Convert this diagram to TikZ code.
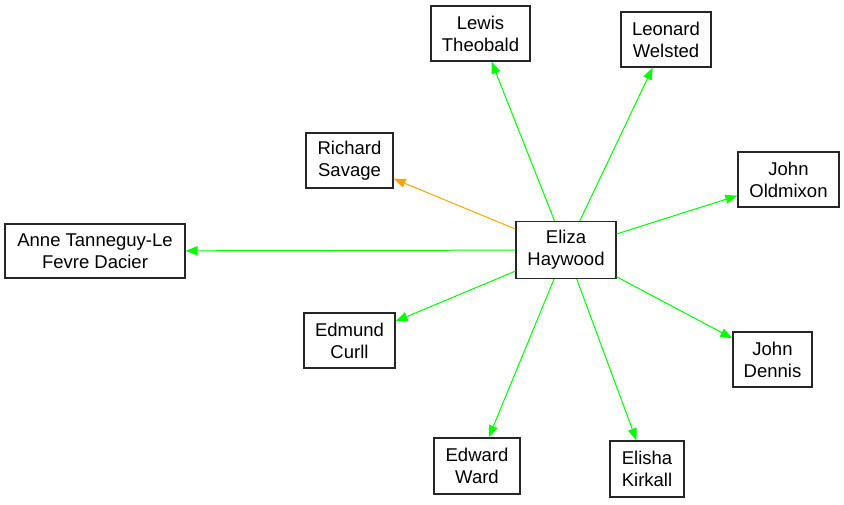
\documentclass[tikz,border=0pt]{standalone}
\usepackage{fontspec}
\setmainfont{Liberation Sans}
\usetikzlibrary{arrows.meta}
\definecolor{edgegreen}{RGB}{0,255,0}
\definecolor{edgeorange}{RGB}{255,165,0}
\begin{document}
\begin{tikzpicture}[x=1pt,y=-1pt,
  person/.style={draw=black!85,line width=1.2pt,fill=white,align=center,inner sep=0pt,
    font=\fontsize{18.5}{22}\selectfont},
  rel/.style={draw=edgegreen,line width=1pt,-{Triangle[length=12pt,width=9pt]}},
  relo/.style={draw=edgeorange,line width=1pt,-{Triangle[length=12pt,width=9pt]}}]
\useasboundingbox (0,0) rectangle (844,504);
\node[person,minimum width=100pt,minimum height=57pt] (eliza) at (566,250) {Eliza\\Haywood};
\node[person,minimum width=99pt,minimum height=55pt] (lewis) at (480.5,33.5) {Lewis\\Theobald};
\node[person,minimum width=90pt,minimum height=55pt] (leonard) at (666,39.5) {Leonard\\Welsted};
\node[person,minimum width=87pt,minimum height=55pt] (richard) at (349.5,160.5) {Richard\\Savage};
\node[person,minimum width=101pt,minimum height=55pt] (oldmixon) at (788.5,179.5) {John\\Oldmixon};
\node[person,minimum width=180pt,minimum height=54pt] (anne) at (95,251) {Anne Tanneguy-Le\\Fevre Dacier};
\node[person,minimum width=91pt,minimum height=55pt] (edmund) at (349.5,340.5) {Edmund\\Curll};
\node[person,minimum width=79pt,minimum height=55pt] (dennis) at (772.5,359.5) {John\\Dennis};
\node[person,minimum width=86pt,minimum height=56pt] (ward) at (477,466) {Edward\\Ward};
\node[person,minimum width=74pt,minimum height=56pt] (kirkall) at (647,469) {Elisha\\Kirkall};
\draw[rel] (eliza) -- (lewis);
\draw[rel] (eliza) -- (leonard);
\draw[relo] (eliza) -- (richard);
\draw[rel] (eliza) -- (oldmixon);
\draw[rel] (eliza) -- (anne);
\draw[rel] (eliza) -- (edmund);
\draw[rel] (eliza) -- (dennis);
\draw[rel] (eliza) -- (ward);
\draw[rel] (eliza) -- (kirkall);
\end{tikzpicture}
\end{document}
